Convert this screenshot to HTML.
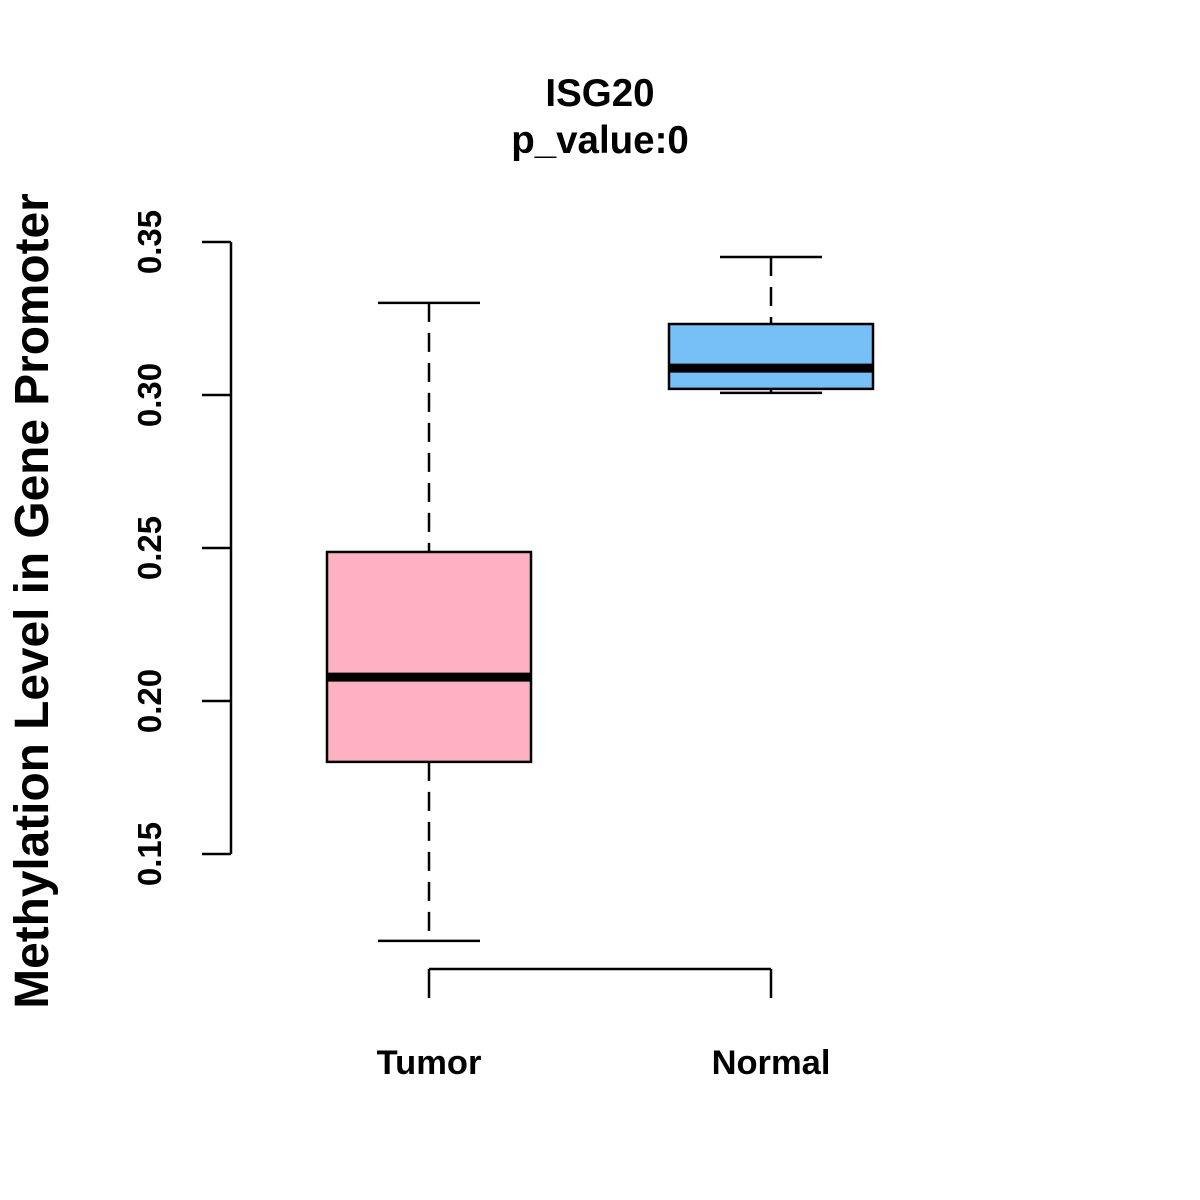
<!DOCTYPE html>
<html><head><meta charset="utf-8"><style>body{margin:0;background:#fff}svg{display:block}text{font-family:"Liberation Sans",Arial,sans-serif;font-weight:bold;fill:#000}</style></head>
<body>
<svg id="chart" width="1200" height="1200" viewBox="0 0 1200 1200">
<text x="600" y="106" font-size="38.5" text-anchor="middle">ISG20</text>
<text x="600" y="153" font-size="38.5" text-anchor="middle">p_value:0</text>
<text transform="translate(48,601) rotate(-90)" font-size="47.8" text-anchor="middle">Methylation Level in Gene Promoter</text>
<g id="g"></g>
</svg>
<script>
const categories = ["Tumor", "Normal"];
const colors = ["#FDB1C3", "#77C0F7"];
const whiskerLow = [0.1216, 0.3007];
const q1 = [0.1801, 0.3020];
const medians = [0.2078, 0.3088];
const q3 = [0.2487, 0.3232];
const whiskerHigh = [0.3301, 0.3451];
const yTicks = [0.15, 0.20, 0.25, 0.30, 0.35];
const yTickLabels = ["0.15", "0.20", "0.25", "0.30", "0.35"];

const NS = "http://www.w3.org/2000/svg";
const g = document.getElementById("g");
const y = v => 242 + (0.35 - v) * 3060;
const x = i => 429 + i * 342;
function mk(tag, attrs, parent) {
  const e = document.createElementNS(NS, tag);
  for (const k in attrs) e.setAttribute(k, attrs[k]);
  (parent || g).appendChild(e);
  return e;
}
let e = mk("line", {x1: 231, x2: 231, y1: y(yTicks[yTicks.length-1]), y2: y(yTicks[0]), stroke: "#000", "stroke-width": 2.5});


yTicks.forEach((t, i) => {
  const l = mk("line", {x1: 202, x2: 231, y1: y(t), y2: y(t), stroke: "#000", "stroke-width": 2.5});
  
  
  const tx = mk("text", {transform: `translate(161,${y(t)}) rotate(-90)`, "font-size": 33, "text-anchor": "middle"});
  tx.textContent = yTickLabels[i];
  
  
});
e = mk("line", {x1: x(0), x2: x(categories.length - 1), y1: 969, y2: 969, stroke: "#000", "stroke-width": 2.5});


categories.forEach((c, i) => {
  const cx = x(i);
  const l = mk("line", {x1: cx, x2: cx, y1: 969, y2: 998, stroke: "#000", "stroke-width": 2.5});
  
  
  const tx = mk("text", {x: cx, y: 1074, "font-size": 34.5, "text-anchor": "middle"});
  tx.textContent = c;
  
  

  const grp = mk("g", {});
  
  
  mk("line", {x1: cx, x2: cx, y1: y(whiskerHigh[i]), y2: y(q3[i]), stroke: "#000", "stroke-width": 2.5, "stroke-dasharray": "19,11"}, grp);
  mk("line", {x1: cx, x2: cx, y1: y(q1[i]), y2: y(whiskerLow[i]), stroke: "#000", "stroke-width": 2.5, "stroke-dasharray": "19,11"}, grp);
  mk("line", {x1: cx - 51, x2: cx + 51, y1: y(whiskerHigh[i]), y2: y(whiskerHigh[i]), stroke: "#000", "stroke-width": 2.5}, grp);
  mk("line", {x1: cx - 51, x2: cx + 51, y1: y(whiskerLow[i]), y2: y(whiskerLow[i]), stroke: "#000", "stroke-width": 2.5}, grp);
  mk("rect", {x: cx - 102, y: y(q3[i]), width: 204, height: y(q1[i]) - y(q3[i]), fill: colors[i], stroke: "#000", "stroke-width": 2.5}, grp);
  mk("line", {x1: cx - 102, x2: cx + 102, y1: y(medians[i]), y2: y(medians[i]), stroke: "#000", "stroke-width": 9}, grp);
});
</script>
</body></html>
